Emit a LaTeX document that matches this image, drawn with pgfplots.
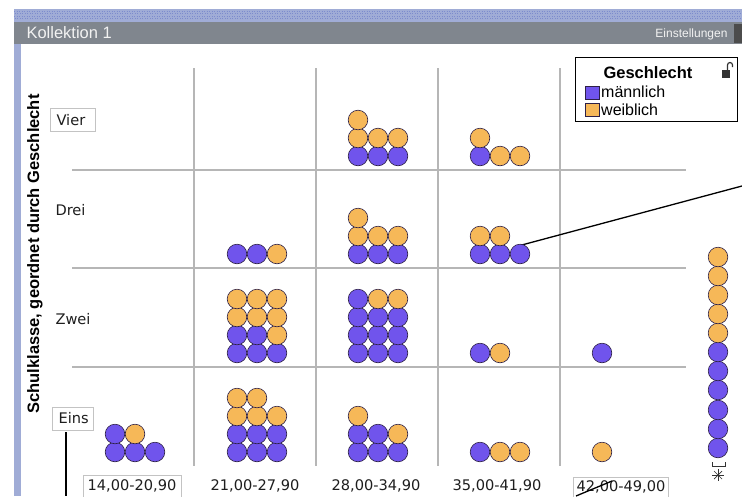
\documentclass[border=0pt]{standalone}
\usepackage{pgfplots}
\pgfplotsset{compat=1.18}
\usepackage{fontspec}
\setmainfont{DejaVu Sans}
\newfontfamily\arial{Liberation Sans}
\definecolor{purp}{RGB}{112,84,236}
\definecolor{orng}{RGB}{246,184,88}
\definecolor{dotline}{RGB}{45,32,70}
\definecolor{gridg}{RGB}{182,182,182}
\definecolor{barblue}{RGB}{160,172,214}
\definecolor{bardot}{RGB}{125,140,205}
\definecolor{titleg}{RGB}{128,134,142}
\definecolor{boxg}{RGB}{195,195,195}
\definecolor{labtext}{RGB}{30,30,30}
\newcommand\lab{\fontsize{14.6}{17}\selectfont}
\begin{document}
\begin{tikzpicture}
\begin{axis}[scale only axis, width=742pt, height=496pt,
  xmin=0, xmax=742, ymin=0, ymax=496, y dir=reverse,
  hide axis, clip=false]
% window frame
\fill[barblue] (axis cs:14,9) rectangle (axis cs:742,496);
\fill[white] (axis cs:21,44) rectangle (axis cs:742,496);
\fill[titleg] (axis cs:14,22) rectangle (axis cs:742,44);
\draw[bardot, line width=1pt, dash pattern=on 1pt off 1.5pt] (axis cs:14,11) -- (axis cs:742,11);
\draw[bardot, line width=1pt, dash pattern=on 1pt off 1.5pt] (axis cs:14.8,13.5) -- (axis cs:742,13.5);
\draw[bardot, line width=1pt, dash pattern=on 1pt off 1.5pt] (axis cs:14,16) -- (axis cs:742,16);
\draw[bardot, line width=1pt, dash pattern=on 1pt off 1.5pt] (axis cs:14.8,18.5) -- (axis cs:742,18.5);
\node[anchor=west, text=white!90!gray, font=\arial\fontsize{16.5}{18}\selectfont] at (axis cs:23,33) {Kollektion 1};
\node[anchor=east, text=white!90!gray, font=\arial\fontsize{12}{14}\selectfont] at (axis cs:731,34) {Einstellungen};
\fill[gray!60!black] (axis cs:734,24) rectangle (axis cs:742,43);
% grid
\draw[gridg, line width=1.1pt] (axis cs:194,68) -- (axis cs:194,466);
\draw[gridg, line width=1.1pt] (axis cs:316,68) -- (axis cs:316,466);
\draw[gridg, line width=1.1pt] (axis cs:438,68) -- (axis cs:438,466);
\draw[gridg, line width=1.1pt] (axis cs:560,68) -- (axis cs:560,466);
\draw[gridg, line width=1.1pt] (axis cs:72,170) -- (axis cs:686,170);
\draw[gridg, line width=1.1pt] (axis cs:72,268) -- (axis cs:686,268);
\draw[gridg, line width=1.1pt] (axis cs:72,367) -- (axis cs:686,367);
% row labels
\draw[boxg, fill=white, line width=0.8pt] (axis cs:50,108) rectangle (axis cs:95,131);
\node[anchor=west, text=labtext, font=\lab] at (axis cs:53,120) {Vier};
\node[anchor=west, text=labtext, font=\lab] at (axis cs:52,210) {Drei};
\node[anchor=west, text=labtext, font=\lab] at (axis cs:52,319) {Zwei};
\draw[boxg, fill=white, line width=0.8pt] (axis cs:52,407) rectangle (axis cs:93,430);
\node[anchor=west, text=labtext, font=\lab] at (axis cs:55,418) {Eins};
% column labels
\draw[boxg, fill=white, line width=0.8pt] (axis cs:83,475) rectangle (axis cs:181,497);
\node[text=labtext, font=\lab] at (axis cs:132,486) {14,00-20,90};
\node[text=labtext, font=\lab] at (axis cs:255,486) {21,00-27,90};
\node[text=labtext, font=\lab] at (axis cs:376,486) {28,00-34,90};
\node[text=labtext, font=\lab] at (axis cs:497,486) {35,00-41,90};
\draw[boxg, fill=white, line width=0.8pt] (axis cs:573,477) rectangle (axis cs:668,497);
\node[text=labtext, font=\lab] at (axis cs:621,487) {42,00-49,00};
% y label
\node[rotate=90, text=black, font=\arial\bfseries\fontsize{16.5}{18}\selectfont] at (axis cs:35,254) {Schulklasse, geordnet durch Geschlecht};
% legend
\draw[black, fill=white, line width=0.9pt] (axis cs:575,57) rectangle (axis cs:737,121);
\node[font=\arial\bfseries\fontsize{16.5}{18}\selectfont] at (axis cs:648,73) {Geschlecht};
\fill[purp, draw=dotline, line width=0.6pt] (axis cs:585,86) rectangle (axis cs:599,99);
\node[anchor=west, inner sep=1pt, font=\arial\fontsize{16}{18}\selectfont] at (axis cs:600,92) {männlich};
\fill[orng, draw=dotline, line width=0.6pt] (axis cs:585,103) rectangle (axis cs:599,116);
\node[anchor=west, inner sep=1pt, font=\arial\fontsize{16}{18}\selectfont] at (axis cs:600,110) {weiblich};
% lock icon
\fill[black!80] (axis cs:722,70) rectangle (axis cs:730,78);
\draw[black!80, line width=1.2pt] (axis cs:727.5,70) -- (axis cs:727.5,65) arc[start angle=180, end angle=0, radius=2.5pt] -- (axis cs:732.5,67);
% dots: maennlich
\addplot[only marks, mark=*, mark size=9.8pt, mark options={fill=purp, draw=dotline, line width=0.6pt}] coordinates {
(115,452)(135,452)(155,452)(115,434)
(237,452)(257,452)(277,452)(237,434)(257,434)(277,434)
(358,452)(378,452)(398,452)(358,434)(378,434)
(480,452)
(237,353)(257,353)(277,353)(237,335)(257,335)
(358,353)(378,353)(398,353)(358,335)(378,335)(398,335)(358,317)(378,317)(398,317)(358,299)
(480,353)
(602,353)
(237,254)(257,254)
(358,254)(378,254)(398,254)
(480,254)(500,254)(520,254)
(358,156)(378,156)(398,156)
(480,156)
(718,448)(718,429)(718,410)(718,390)(718,371)(718,352)
};
% dots: weiblich
\addplot[only marks, mark=*, mark size=9.8pt, mark options={fill=orng, draw=dotline, line width=0.6pt}] coordinates {
(135,434)
(237,416)(257,416)(277,416)(237,398)(257,398)
(398,434)(358,416)
(500,452)(520,452)
(602,452)
(277,335)(237,317)(257,317)(277,317)(237,299)(257,299)(277,299)
(378,299)(398,299)
(500,353)
(277,254)
(358,236)(378,236)(398,236)(358,218)
(480,236)(500,236)
(358,138)(378,138)(398,138)(358,120)
(500,156)(520,156)(480,138)
(718,333)(718,314)(718,295)(718,276)(718,257)
};
% annotation lines
\draw[black, line width=1.3pt] (axis cs:518,246) -- (axis cs:742,186);
\draw[black, line width=1.3pt] (axis cs:66,432) -- (axis cs:66,496);
\draw[black, line width=1.3pt] (axis cs:576,496) -- (axis cs:612,481);
% missing-value marker
\draw[black!80, line width=0.8pt] (axis cs:712,462) -- (axis cs:712,466) -- (axis cs:725,466) -- (axis cs:725,462);
\draw[black!80, line width=0.7pt] (axis cs:718,469) -- (axis cs:718,481);
\draw[black!80, line width=0.7pt] (axis cs:712,475) -- (axis cs:724,475);
\draw[black!80, line width=0.7pt] (axis cs:714,471) -- (axis cs:722,479);
\draw[black!80, line width=0.7pt] (axis cs:714,479) -- (axis cs:722,471);
\end{axis}
\pgfresetboundingbox
\useasboundingbox (current axis.south west) rectangle (current axis.north east);
\end{tikzpicture}
\end{document}
